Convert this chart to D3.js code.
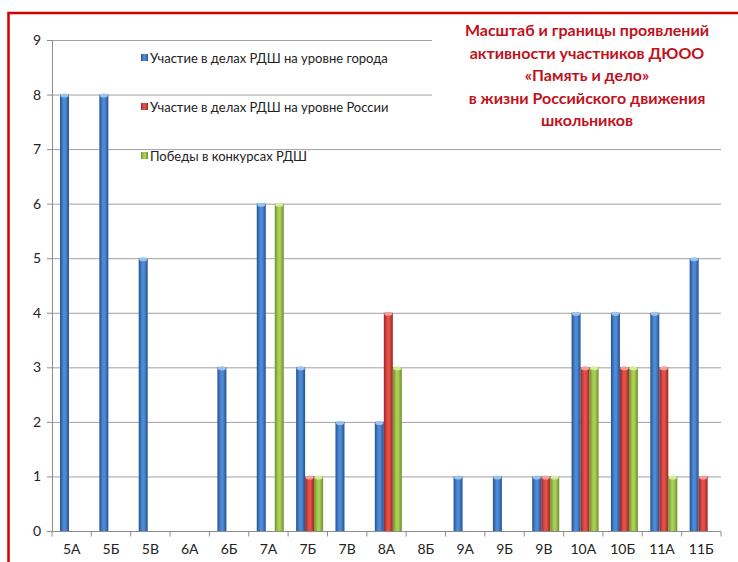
<!DOCTYPE html>
<meta charset="utf-8">
<style>
body { margin: 0; background: #fff; }
svg text { font-family: Lato, "Open Sans", sans-serif; fill: #222; }
.grid line { stroke: #a0a0a0; stroke-width: 1; }
.axis path, .axis line { stroke: #8c8c8c; }
</style>
<body>
<script src="https://d3js.org/d3.v7.min.js"></script>
<script>
// data
var classes = ["5А", "5Б", "5В", "6А", "6Б", "7А", "7Б", "7В", "8А", "8Б", "9А", "9Б", "9В", "10А", "10Б", "11А", "11Б"];
var cityValues   = [8, 8, 5, 0, 3, 6, 3, 2, 2, 0, 1, 1, 1, 4, 4, 4, 5];
var russiaValues = [0, 0, 0, 0, 0, 0, 1, 0, 4, 0, 0, 0, 1, 3, 3, 3, 1];
var winsValues   = [0, 0, 0, 0, 0, 6, 1, 0, 3, 0, 0, 0, 1, 3, 3, 1, 0];
var seriesNames = ["Участие в делах РДШ на уровне города",
                   "Участие в делах РДШ на уровне России",
                   "Победы в конкурсах РДШ"];
var yTicks = [0, 1, 2, 3, 4, 5, 6, 7, 8, 9];
var titleLines = ["Масштаб и границы проявлений", "активности участников ДЮОО",
                  "«Память и дело»", "в жизни Российского движения", "школьников"];

var series = [
  {name: seriesNames[0], values: cityValues,   grad: "gBlue",  dark: "#23528f", mid: "#4f8ad6", top: "#9cc2ee"},
  {name: seriesNames[1], values: russiaValues, grad: "gRed",   dark: "#9c2420", mid: "#e0524a", top: "#f2a19a"},
  {name: seriesNames[2], values: winsValues,   grad: "gGreen", dark: "#6f8f2c", mid: "#a9cf57", top: "#d6eca0"}
];

var W = 738, H = 562;
var margin = {top: 40, right: 17, bottom: 31, left: 52};
var width = W - margin.left - margin.right,
    height = H - margin.top - margin.bottom;

var svg = d3.select("body").append("svg")
    .attr("width", W).attr("height", H);

// gradients for the cylinder look
var defs = svg.append("defs");
series.forEach(function(s) {
  var g = defs.append("linearGradient").attr("id", s.grad)
      .attr("x1", 0).attr("x2", 1).attr("y1", 0).attr("y2", 0);
  g.append("stop").attr("offset", "0%").attr("stop-color", s.dark);
  g.append("stop").attr("offset", "40%").attr("stop-color", s.mid);
  g.append("stop").attr("offset", "60%").attr("stop-color", s.mid);
  g.append("stop").attr("offset", "100%").attr("stop-color", s.dark);
});

var chart = svg.append("g")
    .attr("transform", "translate(" + margin.left + "," + margin.top + ")");

var x0 = d3.scaleBand().domain(classes).range([0, width]).padding(0);
var x1 = d3.scaleBand().domain([0, 1, 2]).range([8, 35]);
var y = d3.scaleLinear().domain([0, 9]).range([height, 0]);

// gridlines
chart.append("g").attr("class", "grid")
  .selectAll("line").data(yTicks.slice(1)).enter().append("line")
    .attr("x1", 0).attr("x2", width)
    .attr("y1", function(d) { return y(d) + 0.5; })
    .attr("y2", function(d) { return y(d) + 0.5; });

// bars
series.forEach(function(s, si) {
  var g = chart.append("g");
  var data = s.values.map(function(v, i) { return {c: classes[i], v: v}; })
                     .filter(function(d) { return d.v > 0; });
  g.selectAll("rect").data(data).enter().append("rect")
      .attr("x", function(d) { return x0(d.c) + x1(si); })
      .attr("y", function(d) { return y(d.v); })
      .attr("width", x1.bandwidth())
      .attr("height", function(d) { return height - y(d.v); })
      .attr("fill", "url(#" + s.grad + ")");
  g.selectAll("ellipse").data(data).enter().append("ellipse")
      .attr("cx", function(d) { return x0(d.c) + x1(si) + x1.bandwidth() / 2; })
      .attr("cy", function(d) { return y(d.v) + 1; })
      .attr("rx", x1.bandwidth() / 2 - 0.5)
      .attr("ry", 2)
      .attr("fill", s.top);
});

// axes
var yAxis = chart.append("g").attr("class", "axis")
    .call(d3.axisLeft(y).tickValues(yTicks).tickSize(5).tickPadding(6));
yAxis.select(".domain").attr("d", "M-5," + (height + 0.5) + "H0.5V0.5H-5");
yAxis.selectAll("text").style("font-size", "14px").attr("fill", "#222");

var xAxis = chart.append("g").attr("class", "axis")
    .attr("transform", "translate(0," + (height + 0.5) + ")")
    .call(d3.axisBottom(x0).tickSize(0).tickPadding(13));
xAxis.select(".domain").attr("d", "M0,0H" + width);
xAxis.selectAll("text").style("font-size", "14px").attr("fill", "#222");
xAxis.selectAll(".sep").data(d3.range(classes.length + 1)).enter().append("line")
    .attr("class", "sep")
    .attr("x1", function(i) { return i * x0.step(); })
    .attr("x2", function(i) { return i * x0.step(); })
    .attr("y1", 0).attr("y2", 5)
    .attr("stroke", "#8c8c8c");

// title box (covers the top right of the grid)
svg.append("rect").attr("x", 432).attr("y", 14).attr("width", W - 432).attr("height", 122)
    .attr("fill", "#fff");
svg.append("g").selectAll("text").data(titleLines).enter().append("text")
    .attr("x", 587)
    .attr("y", function(d, i) { return 36 + i * 22.5; })
    .attr("text-anchor", "middle")
    .style("font-size", "16px")
    .style("font-weight", "bold")
    .style("fill", "#bf1220")
    .text(function(d) { return d; });

// legend
var legend = svg.append("g");
var leg = legend.selectAll("g").data(series).enter().append("g")
    .attr("transform", function(d, i) { return "translate(141," + (58 + i * 49) + ")"; });
leg.append("rect").attr("x", 0).attr("y", -4).attr("width", 7).attr("height", 7)
    .attr("fill", function(d) { return "url(#" + d.grad + ")"; });
leg.append("text").attr("x", 9).attr("y", 0).attr("dy", "0.35em")
    .style("font-size", "13px")
    .text(function(d) { return d.name; });

// red frame
svg.append("path").attr("d", "M8.5," + H + "V13H" + W)
    .attr("fill", "none").attr("stroke", "#d40000").attr("stroke-width", 2.5);
</script>
</body>
